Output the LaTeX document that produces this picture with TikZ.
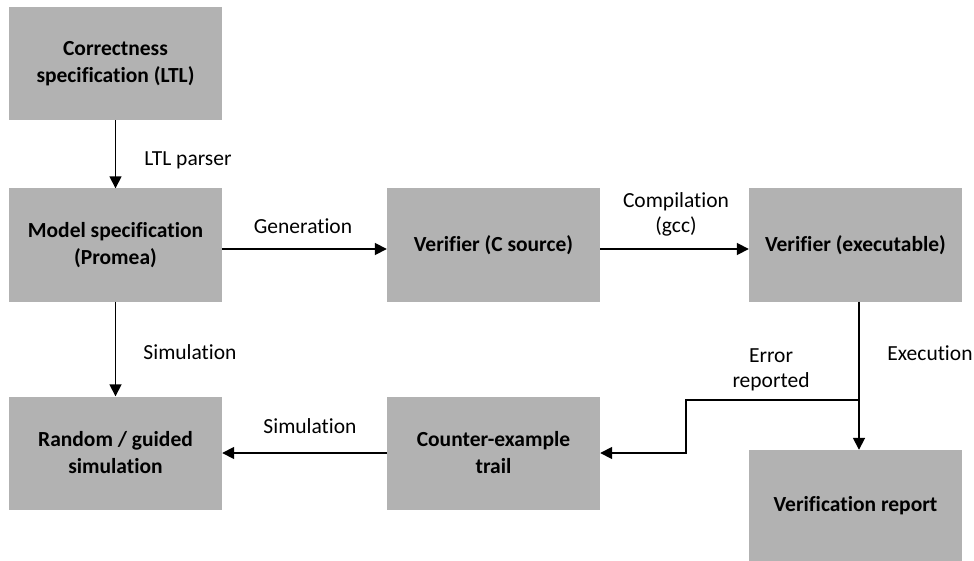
\documentclass[tikz,border=0pt]{standalone}
\usepackage{fontspec}
\setmainfont{Carlito}[Ligatures=NoCommon]
\usetikzlibrary{arrows.meta}
\definecolor{boxgray}{RGB}{178,178,178}
\begin{document}
\begin{tikzpicture}[x=1pt,y=-1pt,
  box/.style={fill=boxgray,draw=none,minimum width=213pt,minimum height=113pt,inner sep=2pt,align=center,font=\fontsize{21.5}{27}\selectfont\bfseries},
  lbl/.style={align=center,font=\fontsize{21.5}{25}\selectfont,inner sep=0pt},
  arr/.style={line width=1.7pt,-{Triangle[length=12pt,width=12pt]}}]
\useasboundingbox (0,0) rectangle (974,561);
\node[box] (b1) at (115.5,63.5) {Correctness\\specification (LTL)};
\node[box] (b2) at (115.5,245) {Model specification\\(Promea)};
\node[box] (b3) at (493.5,245) {Verifier (C source)};
\node[box] (b4) at (855.5,245) {Verifier (executable)};
\node[box] (b5) at (115.5,453) {Random / guided\\simulation};
\node[box] (b6) at (493.5,453) {Counter-example\\trail};
\node[box,minimum height=112pt] (b7) at (855.5,506) {Verification report};
\coordinate (stepx) at (686,400);
\coordinate (ej) at (859,400);
\draw[arr] (b1.south) -- (b2.north);
\draw[arr] ([yshift=-4pt]b2.east) -- ([yshift=-4pt]b3.west);
\draw[arr] ([yshift=-4pt]b3.east) -- ([yshift=-4pt]b4.west);
\draw[arr] (b2.south) -- (b5.north);
\draw[arr] (b6.west) -- (b5.east);
\draw[arr] ([xshift=3.5pt]b4.south) -- ([xshift=3.5pt]b7.north);
\draw[arr] (ej) -- (stepx) |- (b6.east);
\node[lbl] (l1) at (188,160) {LTL parser};
\node[lbl] (l2) at (303,226) {Generation};
\node[lbl] (l3) at (676,214) {Compilation\\(gcc)};
\node[lbl] (l4) at (190,352) {Simulation};
\node[lbl] (l5) at (310,426) {Simulation};
\node[lbl] (l6) at (930,353) {Execution};
\node[lbl] (l7) at (771,370) {Error\\reported};
\end{tikzpicture}
\end{document}
